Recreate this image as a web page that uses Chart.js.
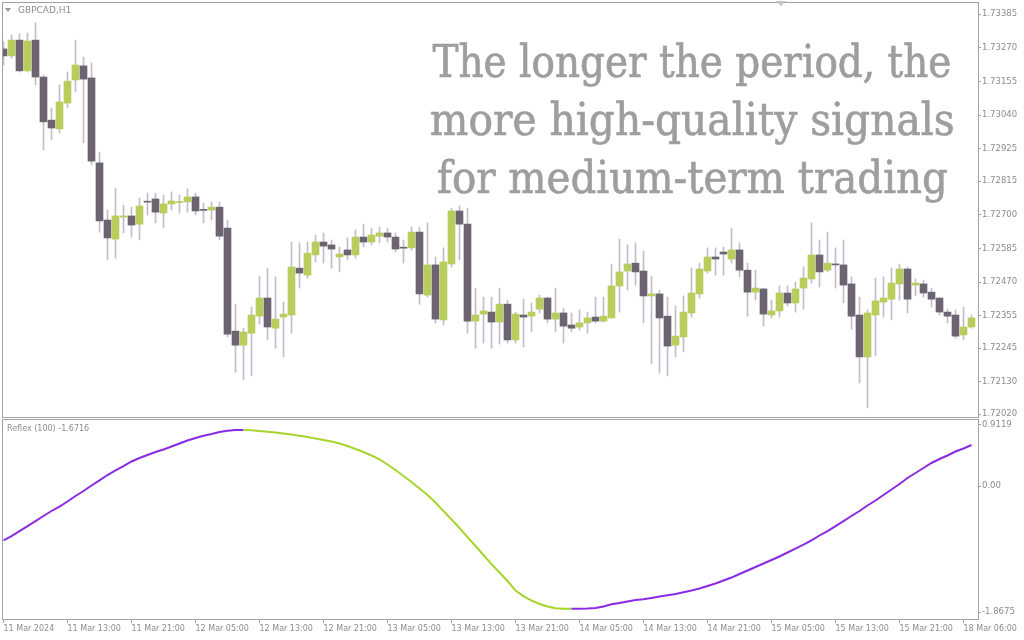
<!DOCTYPE html>
<html><head><meta charset="utf-8">
<script src="https://cdn.jsdelivr.net/npm/chart.js@4.4.1/dist/chart.umd.min.js"></script>
<style>
html,body{margin:0;padding:0;background:#fff;width:1024px;height:640px;overflow:hidden;}
#c1{position:absolute;left:0;top:0;}
#c2{position:absolute;left:0;top:418px;}
.lbl{position:absolute;font-family:"DejaVu Sans";color:#8c8c8c;white-space:nowrap;}
.hl{position:absolute;left:342px;width:700px;text-align:center;font-family:"DejaVu Serif";font-size:44px;line-height:58px;color:#9e9e9e;white-space:nowrap;-webkit-text-stroke:0.7px #9e9e9e;}
.hl span{display:inline-block;transform-origin:50% 50%;}
.tri{position:absolute;width:0;height:0;}
</style></head>
<body>
<canvas id="c1" width="1024" height="418"></canvas>
<canvas id="c2" width="1024" height="222"></canvas>
<div class="tri" style="left:5px;top:8px;border-left:3px solid transparent;border-right:3px solid transparent;border-top:4px solid #9a9a9a;"></div>
<div class="lbl" style="left:18px;top:4px;font-size:9px;line-height:12px;">GBPCAD,H1</div>
<div class="tri" style="left:776px;top:1px;border-left:5px solid transparent;border-right:5px solid transparent;border-top:5px solid #c4c4c4;"></div>
<div class="lbl" style="left:7px;top:423px;font-size:8px;line-height:11px;">Reflex (100) -1.6716</div>
<div class="hl" style="top:33px"><span data-w="519">The longer the period, the</span></div>
<div class="hl" style="top:91px"><span data-w="525">more high-quality signals</span></div>
<div class="hl" style="top:149px"><span data-w="511">for medium-term trading</span></div>
<script>
// ---- data ----
const open = [
1.73266,1.73242,1.73296,1.73191,1.73296,1.73170,1.73023,1.72993,1.73081,1.73160,
1.73208,1.73167,1.72877,1.72682,1.72617,1.72692,1.72696,1.72668,1.72744,1.72754,
1.72706,1.72737,1.72742,1.72744,1.72761,1.72716,1.72716,1.72726,1.72655,1.72303,
1.72255,1.72296,1.72354,1.72416,1.72313,1.72351,1.72358,1.72518,1.72494,1.72563,
1.72607,1.72597,1.72556,1.72580,1.72563,1.72624,1.72607,1.72627,1.72638,1.72624,
1.72587,1.72587,1.72641,1.72426,1.72529,1.72341,1.72532,1.72713,1.72668,1.72337,
1.72361,1.72368,1.72334,1.72395,1.72273,1.72358,1.72354,1.72378,1.72416,1.72344,
1.72365,1.72324,1.72317,1.72331,1.72351,1.72337,1.72348,1.72457,1.72508,1.72535,
1.72508,1.72423,1.72430,1.72354,1.72255,1.72283,1.72365,1.72430,1.72508,1.72556,
1.72573,1.72549,1.72580,1.72511,1.72436,1.72447,1.72358,1.72372,1.72433,1.72399,
1.72450,1.72481,1.72563,1.72511,1.72532,1.72529,1.72464,1.72358,1.72215,1.72358,
1.72402,1.72412,1.72464,1.72515,1.72460,1.72464,1.72436,1.72416,1.72368,1.72358,
1.72290,1.72317];
const high = [
1.73290,1.73313,1.73317,1.73320,1.73355,1.73177,1.73064,1.73143,1.73187,1.73296,
1.73238,1.73218,1.72914,1.72716,1.72791,1.72733,1.72726,1.72757,1.72774,1.72774,
1.72767,1.72778,1.72767,1.72788,1.72774,1.72740,1.72744,1.72744,1.72682,1.72395,
1.72313,1.72385,1.72491,1.72518,1.72488,1.72402,1.72607,1.72604,1.72607,1.72631,
1.72638,1.72614,1.72590,1.72621,1.72648,1.72668,1.72655,1.72658,1.72655,1.72638,
1.72614,1.72658,1.72658,1.72672,1.72556,1.72587,1.72723,1.72730,1.72723,1.72450,
1.72419,1.72419,1.72450,1.72409,1.72368,1.72412,1.72399,1.72426,1.72419,1.72450,
1.72382,1.72365,1.72375,1.72368,1.72419,1.72419,1.72532,1.72617,1.72597,1.72604,
1.72576,1.72491,1.72443,1.72419,1.72389,1.72423,1.72518,1.72535,1.72587,1.72587,
1.72590,1.72655,1.72604,1.72535,1.72511,1.72450,1.72409,1.72457,1.72457,1.72470,
1.72522,1.72672,1.72614,1.72641,1.72587,1.72614,1.72488,1.72419,1.72375,1.72484,
1.72488,1.72518,1.72532,1.72522,1.72481,1.72477,1.72450,1.72416,1.72378,1.72375,
1.72385,1.72358];
const low = [
1.73211,1.73235,1.73187,1.73187,1.73143,1.72921,1.72955,1.72979,1.73064,1.73119,
1.72945,1.72870,1.72641,1.72546,1.72552,1.72638,1.72624,1.72614,1.72699,1.72672,
1.72655,1.72716,1.72706,1.72709,1.72699,1.72672,1.72682,1.72614,1.72283,1.72163,
1.72136,1.72150,1.72327,1.72273,1.72245,1.72215,1.72296,1.72450,1.72484,1.72539,
1.72535,1.72518,1.72505,1.72546,1.72552,1.72590,1.72597,1.72604,1.72607,1.72573,
1.72535,1.72580,1.72395,1.72419,1.72331,1.72324,1.72522,1.72546,1.72296,1.72245,
1.72262,1.72245,1.72259,1.72262,1.72262,1.72249,1.72300,1.72365,1.72331,1.72300,
1.72262,1.72300,1.72307,1.72296,1.72331,1.72334,1.72348,1.72368,1.72443,1.72460,
1.72331,1.72191,1.72160,1.72150,1.72215,1.72232,1.72351,1.72416,1.72501,1.72494,
1.72494,1.72535,1.72488,1.72354,1.72409,1.72320,1.72348,1.72351,1.72389,1.72368,
1.72378,1.72467,1.72453,1.72505,1.72450,1.72399,1.72310,1.72126,1.72041,1.72218,
1.72351,1.72341,1.72409,1.72365,1.72423,1.72419,1.72385,1.72358,1.72331,1.72279,
1.72273,1.72313];
const close = [
1.73242,1.73296,1.73191,1.73293,1.73170,1.73017,1.72996,1.73085,1.73156,1.73211,
1.73163,1.72883,1.72679,1.72621,1.72696,1.72696,1.72665,1.72730,1.72743,1.72709,
1.72737,1.72747,1.72745,1.72761,1.72713,1.72715,1.72726,1.72627,1.72293,1.72255,
1.72300,1.72358,1.72416,1.72317,1.72344,1.72361,1.72522,1.72501,1.72569,1.72607,
1.72593,1.72583,1.72566,1.72563,1.72624,1.72607,1.72631,1.72638,1.72624,1.72583,
1.72586,1.72641,1.72430,1.72529,1.72344,1.72539,1.72713,1.72668,1.72337,1.72358,
1.72372,1.72334,1.72395,1.72273,1.72361,1.72351,1.72368,1.72416,1.72344,1.72365,
1.72320,1.72313,1.72331,1.72348,1.72337,1.72354,1.72457,1.72505,1.72532,1.72505,
1.72423,1.72430,1.72348,1.72252,1.72286,1.72368,1.72433,1.72515,1.72556,1.72549,
1.72566,1.72580,1.72511,1.72436,1.72450,1.72361,1.72372,1.72433,1.72399,1.72447,
1.72484,1.72563,1.72505,1.72535,1.72529,1.72460,1.72354,1.72215,1.72365,1.72406,
1.72416,1.72467,1.72515,1.72412,1.72467,1.72433,1.72412,1.72368,1.72354,1.72286,
1.72317,1.72348];
const reflex = [
-0.807,-0.741,-0.667,-0.593,-0.519,-0.444,-0.370,-0.304,-0.230,-0.148,
-0.074,0.007,0.084,0.163,0.230,0.296,0.363,0.415,0.459,0.504,
0.541,0.585,0.630,0.674,0.711,0.744,0.770,0.800,0.818,0.828,
0.831,0.826,0.815,0.804,0.793,0.778,0.763,0.745,0.726,0.704,
0.681,0.659,0.630,0.593,0.548,0.504,0.452,0.393,0.319,0.237,
0.148,0.059,-0.037,-0.133,-0.244,-0.370,-0.496,-0.622,-0.756,-0.889,
-1.022,-1.156,-1.281,-1.407,-1.548,-1.630,-1.696,-1.748,-1.785,-1.812,
-1.817,-1.819,-1.818,-1.815,-1.807,-1.785,-1.753,-1.733,-1.711,-1.689,
-1.679,-1.659,-1.637,-1.618,-1.600,-1.573,-1.548,-1.519,-1.481,-1.444,
-1.400,-1.356,-1.304,-1.252,-1.200,-1.148,-1.096,-1.044,-0.985,-0.926,
-0.867,-0.804,-0.733,-0.667,-0.593,-0.519,-0.444,-0.370,-0.289,-0.215,
-0.133,-0.052,0.030,0.119,0.193,0.267,0.341,0.400,0.452,0.511,
0.556,0.607];
const priceTicks = [1.73385,1.73270,1.73155,1.73040,1.72925,1.72815,1.72700,1.72585,1.72470,1.72355,1.72245,1.72130,1.72020];
const priceTickLabels = ["1.73385","1.73270","1.73155","1.73040","1.72925","1.72815","1.72700","1.72585","1.72470","1.72355","1.72245","1.72130","1.72020"];
const reflexTicks = [0.9119, 0, -1.8675];
const reflexTickLabels = ["0.9119","0.00","-1.8675"];
const timeTickIndex = [0,8,16,24,32,40,48,56,64,72,80,88,96,104,112,120];
const timeTickLabels = ["11 Mar 2024","11 Mar 13:00","11 Mar 21:00","12 Mar 05:00","12 Mar 13:00","12 Mar 21:00","13 Mar 05:00","13 Mar 13:00","13 Mar 21:00","14 Mar 05:00","14 Mar 13:00","14 Mar 21:00","15 Mar 05:00","15 Mar 13:00","15 Mar 21:00","18 Mar 06:00"];

// ---- styles ----
const BULL = '#b9cd5c', BEAR = '#6c6571', WICK = '#c3bcca';
const UP = '#8a2be2', DOWN = '#a6d52e';
const FRAME = '#a2a2a2', TXT = '#8c8c8c';
const XMIN = -0.1875, XMAX = 121.8125;

Chart.defaults.font.family = 'DejaVu Sans';
Chart.defaults.color = TXT;

const frame = { id: 'frame', afterDraw(chart) {
  const {ctx, chartArea: a} = chart;
  ctx.save(); ctx.strokeStyle = FRAME; ctx.lineWidth = 1;
  ctx.strokeRect(a.left + 0.5, a.top + 0.5, a.right - a.left, a.bottom - a.top);
  ctx.restore();
}};

const idx = open.map((_, i) => i);

new Chart(document.getElementById('c1'), {
  type: 'bar',
  data: { datasets: [
    { data: idx.map(i => ({x: i, y: [open[i], close[i]]})),
      backgroundColor: idx.map(i => close[i] >= open[i] ? BULL : BEAR),
      barThickness: 7, minBarLength: 1, grouped: false, order: 0, borderWidth: 0 },
    { data: idx.map(i => ({x: i, y: [low[i], high[i]]})),
      backgroundColor: WICK, barThickness: 1, grouped: false, order: 1, borderWidth: 0 }
  ]},
  options: {
    responsive: false, animation: false,
    layout: { padding: { left: 2, top: 2, right: 0, bottom: 1 } },
    plugins: { legend: { display: false }, tooltip: { enabled: false } },
    scales: {
      x: { type: 'linear', min: XMIN, max: XMAX, offset: false, grid: { offset: false }, display: false },
      y: { position: 'right', min: 1.72010, max: 1.73426,
        afterBuildTicks(s) { s.ticks = priceTicks.map(v => ({ value: v })); },
        afterFit(s) { s.width = 46; s.paddingTop = 0; s.paddingBottom = 0; },
        ticks: { autoSkip: false, padding: 1, color: TXT, font: { size: 8.5 },
          callback: (v, i) => priceTickLabels[i] },
        grid: { drawOnChartArea: false, drawTicks: true, tickLength: 3, color: FRAME },
        border: { display: false } }
    }
  },
  plugins: [frame]
});

new Chart(document.getElementById('c2'), {
  type: 'line',
  data: { datasets: [{
    data: reflex.map((v, i) => ({ x: i, y: v })),
    borderColor: UP, borderWidth: 2, pointRadius: 0, tension: 0,
    segment: { borderColor: c => c.p1.parsed.y < c.p0.parsed.y ? DOWN : UP }
  }]},
  options: {
    responsive: false, animation: false,
    layout: { padding: { left: 2, top: 1, right: 0, bottom: 0 } },
    plugins: { legend: { display: false }, tooltip: { enabled: false } },
    scales: {
      x: { type: 'linear', min: XMIN, max: XMAX,
        afterBuildTicks(s) { s.ticks = timeTickIndex.map(v => ({ value: v })); },
        afterFit(s) { s.height = 21; s.paddingLeft = 0; s.paddingRight = 0; },
        ticks: { autoSkip: false, maxRotation: 0, align: 'start', padding: 1, color: TXT, font: { size: 8 },
          callback: (v, i) => timeTickLabels[i] },
        grid: { drawOnChartArea: false, drawTicks: true, tickLength: 4, color: FRAME },
        border: { display: false } },
      y: { position: 'right', min: -1.970, max: 0.9926,
        afterBuildTicks(s) { s.ticks = reflexTicks.map(v => ({ value: v })); },
        afterFit(s) { s.width = 46; s.paddingTop = 0; s.paddingBottom = 0; },
        ticks: { autoSkip: false, padding: 1, color: TXT, font: { size: 8.5 },
          callback: (v, i) => reflexTickLabels[i] },
        grid: { drawOnChartArea: false, drawTicks: true, tickLength: 3, color: FRAME },
        border: { display: false } }
    }
  },
  plugins: [frame]
});

// fit headline lines to the reference widths
document.querySelectorAll('.hl span').forEach(s => {
  const w = s.getBoundingClientRect().width;
  s.style.transform = 'scaleX(' + (parseFloat(s.dataset.w) / w) + ')';
});
</script>
</body></html>
